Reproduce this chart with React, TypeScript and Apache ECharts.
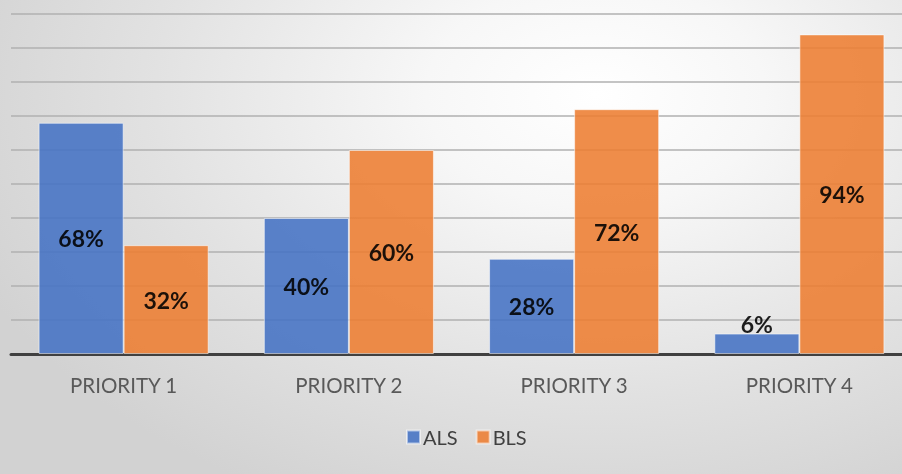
import React, { useEffect, useRef } from "react";
import * as echarts from "echarts";

const categories = ["PRIORITY 1", "PRIORITY 2", "PRIORITY 3", "PRIORITY 4"];
const alsValues = [68, 40, 28, 6];
const blsValues = [32, 60, 72, 94];
const seriesNames = ["ALS", "BLS"];

const FONT = "Lato, 'Open Sans', sans-serif";

export default function App() {
  const ref = useRef<HTMLDivElement>(null);
  useEffect(() => {
    if (!ref.current) return;
    const chart = echarts.init(ref.current, undefined, { renderer: "svg" });
    const mk = (vals: number[]) =>
      vals.map((v) => (v < 10 ? { value: v, label: { position: "top", distance: -2 } } : v));
    const labelCfg = {
      show: true,
      position: "inside",
      formatter: "{c}%",
      color: "#000",
      fontWeight: "bold",
      fontSize: 23,
      fontFamily: FONT,
    };
    chart.setOption({
      animation: false,
      backgroundColor: "transparent",
      grid: { left: 11, right: 0, top: 14, bottom: 120 },
      legend: {
        data: seriesNames,
        left: 406,
        top: 427,
        padding: 0,
        itemWidth: 13,
        itemHeight: 13,
        itemGap: 18,
        icon: "rect",
        textStyle: { fontSize: 20, color: "#404040", fontFamily: FONT, padding: [0, 0, 0, -2] },
      },
      xAxis: {
        type: "category",
        data: categories,
        axisLine: { show: true, lineStyle: { color: "#404040", width: 3 } },
        axisTick: { show: false },
        axisLabel: { color: "#595959", fontSize: 20.5, fontFamily: FONT, margin: 20 },
      },
      yAxis: {
        type: "value",
        min: 0,
        max: 100,
        interval: 10,
        axisLabel: { show: false },
        axisLine: { show: false },
        axisTick: { show: false },
        splitLine: { show: true, lineStyle: { color: "#b0b0b0", width: 1.5 } },
      },
      series: [
        {
          name: seriesNames[0],
          type: "bar",
          data: mk(alsValues),
          barGap: "0%",
          barCategoryGap: "24.5%",
          itemStyle: { color: "#4472C4", opacity: 0.88, borderColor: "rgba(255,255,255,0.6)", borderWidth: 1 },
          label: labelCfg,
        },
        {
          name: seriesNames[1],
          type: "bar",
          data: mk(blsValues),
          barGap: "0%",
          barCategoryGap: "24.5%",
          itemStyle: { color: "#ED7D31", opacity: 0.88, borderColor: "rgba(255,255,255,0.6)", borderWidth: 1 },
          label: labelCfg,
        },
      ],
    });
    return () => chart.dispose();
  }, []);
  return (
    <div
      style={{
        position: "fixed",
        left: 0,
        top: 0,
        width: 902,
        height: 474,
        overflow: "hidden",
        background:
          "radial-gradient(ellipse 75% 95% at 66% 20%, #ffffff 0%, #f7f7f7 25%, #e2e2e2 65%, #d2d2d2 100%)",
      }}
    >
      <div ref={ref} style={{ width: 912, height: 474 }} />
    </div>
  );
}
